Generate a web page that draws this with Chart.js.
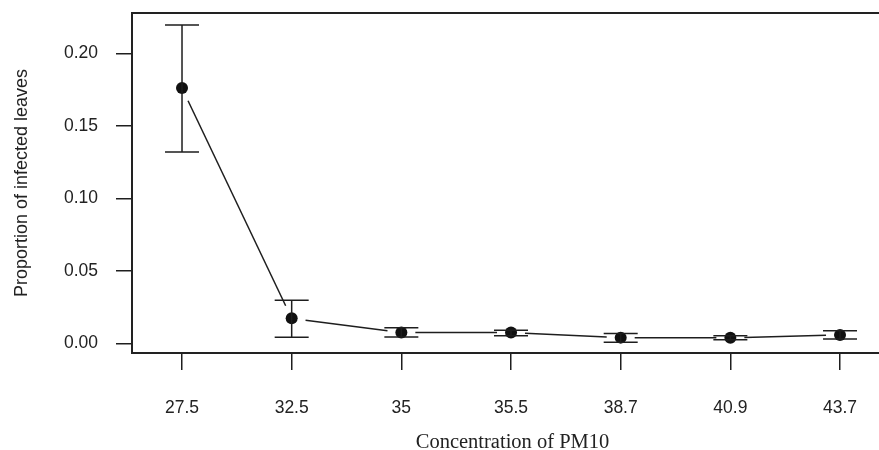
<!DOCTYPE html>
<html>
<head>
<meta charset="utf-8">
<script src="https://cdn.jsdelivr.net/npm/chart.js@4/dist/chart.umd.min.js"></script>
<style>
  html, body { margin: 0; padding: 0; background: #ffffff; overflow: hidden; }
  #wrap { width: 879px; height: 450px; position: relative; overflow: hidden; }
  #c { display: block; }
</style>
</head>
<body>
<div id="wrap"><canvas id="c" width="893" height="450" style="width:893px;height:450px"></canvas></div>
<script>
// ---- data ----
const categories = ["27.5", "32.5", "35", "35.5", "38.7", "40.9", "43.7"];
const proportion = [0.176, 0.0172, 0.0074, 0.0074, 0.0039, 0.0038, 0.0057];
const errUpper   = [0.2195, 0.0297, 0.0107, 0.0090, 0.0068, 0.0052, 0.0086];
const errLower   = [0.1320, 0.0042, 0.0043, 0.0052, 0.0008, 0.0024, 0.0030];
const yTicks     = [0.00, 0.05, 0.10, 0.15, 0.20];
const xTitle = "Concentration of PM10";
const yTitle = "Proportion of infected leaves";

const INK = "#1e1e1e";

const points = categories.map((c, i) => ({ x: i, y: proportion[i] }));

const errorAndLinePlugin = {
  id: "errorAndLine",
  afterDatasetsDraw(chart) {
    const ctx = chart.ctx;
    const xs = chart.scales.x, ys = chart.scales.y;
    const area = chart.chartArea;
    ctx.save();
    ctx.strokeStyle = INK;
    ctx.lineWidth = 1.5;
    // connecting line with gaps around points (R type="b")
    const gap = 14;
    for (let i = 0; i < points.length - 1; i++) {
      const x1 = xs.getPixelForValue(points[i].x), y1 = ys.getPixelForValue(points[i].y);
      const x2 = xs.getPixelForValue(points[i + 1].x), y2 = ys.getPixelForValue(points[i + 1].y);
      const dx = x2 - x1, dy = y2 - y1, len = Math.hypot(dx, dy);
      if (len <= 2 * gap) continue;
      const ux = dx / len, uy = dy / len;
      ctx.beginPath();
      ctx.moveTo(x1 + ux * gap, y1 + uy * gap);
      ctx.lineTo(x2 - ux * gap, y2 - uy * gap);
      ctx.stroke();
    }
    // error bars
    const cap = 17;
    for (let i = 0; i < categories.length; i++) {
      const x = xs.getPixelForValue(i);
      const yt = ys.getPixelForValue(errUpper[i]);
      const yb = ys.getPixelForValue(errLower[i]);
      ctx.beginPath();
      ctx.moveTo(x, yt); ctx.lineTo(x, yb);
      ctx.moveTo(x - cap, yt); ctx.lineTo(x + cap, yt);
      ctx.moveTo(x - cap, yb); ctx.lineTo(x + cap, yb);
      ctx.stroke();
    }
    // plot box (right side lies past the visible edge)
    ctx.lineWidth = 2;
    ctx.strokeStyle = "#222";
    ctx.strokeRect(area.left, area.top, area.right - area.left, area.bottom - area.top);
    ctx.restore();
  },
  afterDraw(chart) {
    const ctx = chart.ctx;
    const area = chart.chartArea;
    ctx.save();
    ctx.fillStyle = "#222";
    ctx.textAlign = "center";
    ctx.textBaseline = "alphabetic";
    ctx.font = "20.5px 'Liberation Serif', 'Times New Roman', serif";
    ctx.fillText(xTitle, 512.5, 448);
    ctx.textBaseline = "middle";
    ctx.translate(22, (area.top + area.bottom) / 2);
    ctx.rotate(-Math.PI / 2);
    ctx.font = "18px 'Liberation Sans', Arial, sans-serif";
    ctx.fillText(yTitle, 0, 0);
    ctx.restore();
  }
};

new Chart(document.getElementById("c"), {
  type: "line",
  data: {
    datasets: [{
      data: points,
      showLine: false,
      pointRadius: 6,
      pointHoverRadius: 6,
      pointBackgroundColor: "#111",
      pointBorderColor: "#111",
      pointBorderWidth: 0
    }]
  },
  options: {
    responsive: false,
    animation: false,
    devicePixelRatio: 1,
    layout: { autoPadding: false, padding: { left: 0, top: 13, right: 0, bottom: 0 } },
    plugins: { legend: { display: false }, tooltip: { enabled: false } },
    scales: {
      x: {
        type: "linear",
        min: -0.456,
        max: 6.483,
        afterFit(s) { s.height = 97; s.paddingLeft = 0; s.paddingRight = 0; },
        afterBuildTicks(s) { s.ticks = categories.map((c, i) => ({ value: i })); },
        ticks: {
          callback: (v) => categories[v],
          color: "#222",
          font: { family: "'Liberation Sans', Arial, sans-serif", size: 17.5 },
          padding: 28,
          maxRotation: 0,
          autoSkip: false
        },
        grid: { drawOnChartArea: false, drawTicks: true, tickLength: 17, color: INK, lineWidth: 1.5 },
        border: { display: false }
      },
      y: {
        min: -0.0067,
        max: 0.2278,
        afterFit(s) { s.width = 132; s.paddingTop = 0; s.paddingBottom = 0; },
        afterBuildTicks(s) { s.ticks = yTicks.map(v => ({ value: v })); },
        ticks: {
          callback: (v) => Number(v).toFixed(2),
          color: "#222",
          font: { family: "'Liberation Sans', Arial, sans-serif", size: 17.5 },
          padding: 18
        },
        grid: { drawOnChartArea: false, drawTicks: true, tickLength: 16, color: INK, lineWidth: 1.5 },
        border: { display: false }
      }
    }
  },
  plugins: [errorAndLinePlugin]
});
</script>
</body>
</html>
